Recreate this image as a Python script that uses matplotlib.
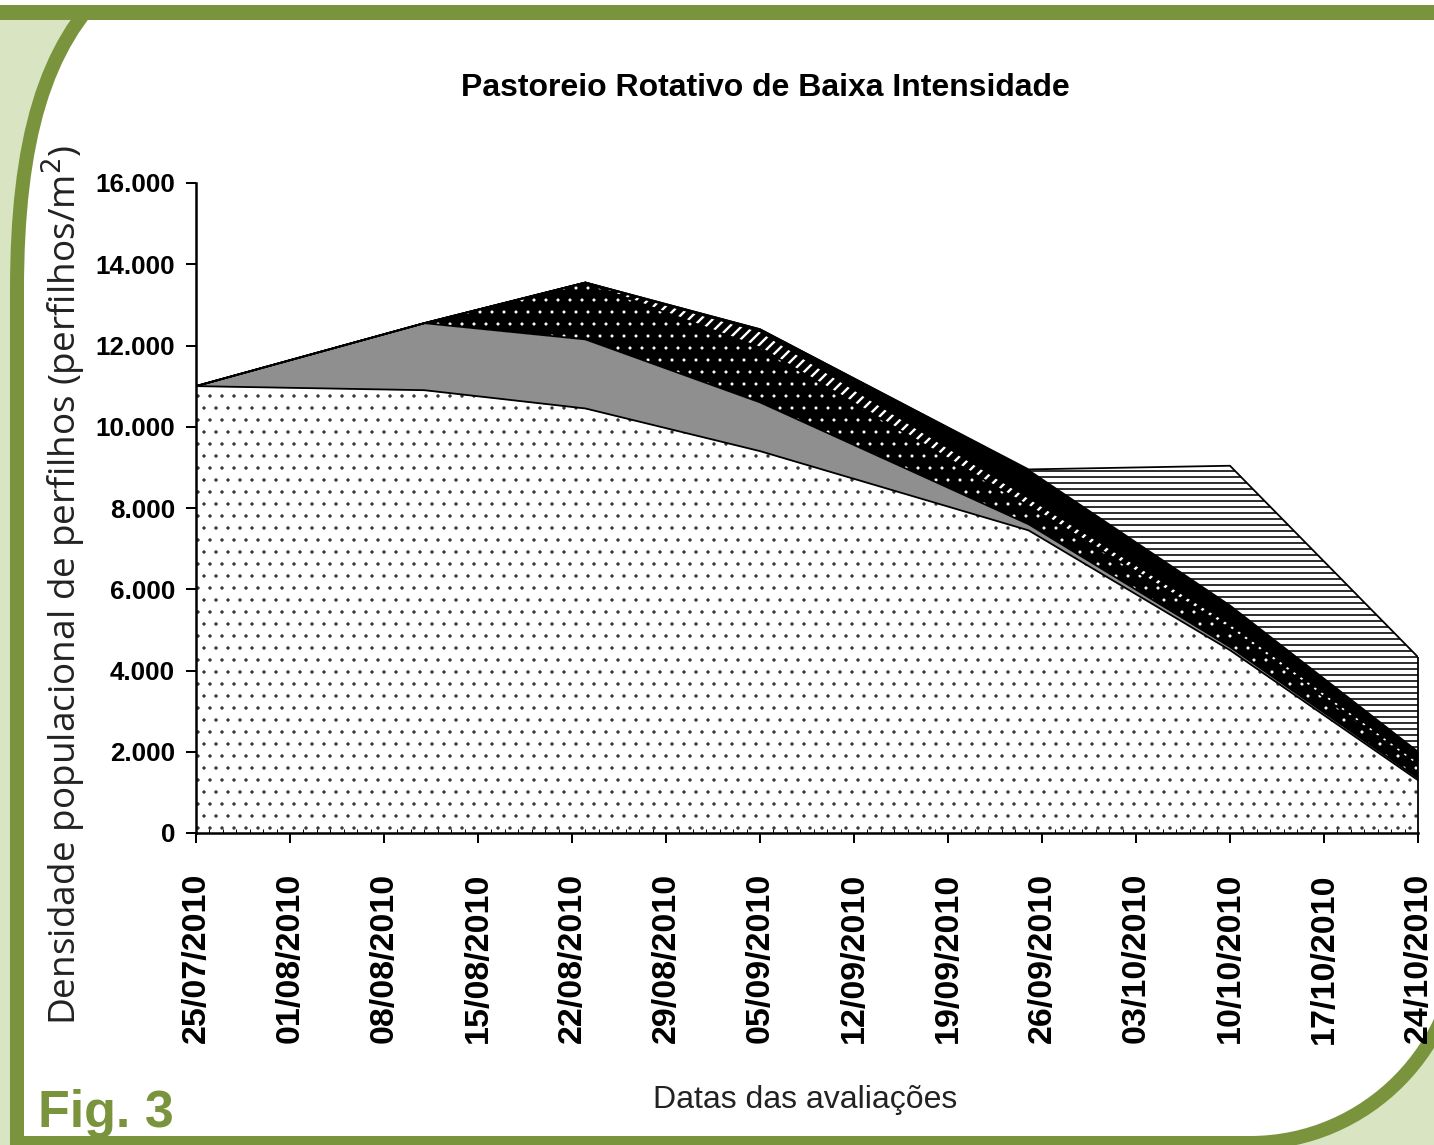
import matplotlib.pyplot as plt
import matplotlib.dates as mdates
from matplotlib.path import Path
from matplotlib.patches import PathPatch, Rectangle
import numpy as np
import pandas as pd

# Datas das avaliações (pontos medidos)
datas = pd.to_datetime(['2010-07-25', '2010-08-11', '2010-08-23', '2010-09-05',
                        '2010-09-25', '2010-10-10', '2010-10-24'])

# Densidade de perfilhos por camada (perfilhos/m2), de baixo para cima
camada1 = [11000, 10900, 10450, 9400, 7450, 4500, 1300]
camada2 = [0, 1650, 1700, 1200, 150, 80, 50]
camada3 = [0, 0, 1400, 1350, 450, 450, 300]
camada4 = [0, 0, 0, 400, 200, 120, 100]
camada5 = [0, 0, 0, 50, 680, 450, 250]
camada6 = [0, 0, 0, 0, 20, 3440, 2330]

# Eixos
semanas = pd.date_range('2010-07-25', '2010-10-24', freq='7D')
y_ticks = [0, 2000, 4000, 6000, 8000, 10000, 12000, 14000, 16000]
y_labels = ['0', '2.000', '4.000', '6.000', '8.000', '10.000', '12.000', '14.000', '16.000']

W, H = 1434, 1145
verde = '#7a943d'
verde_claro = '#d9e5c2'
fonte = 'Liberation Sans'

fig = plt.figure(figsize=(W / 72, H / 72), dpi=72)
fig.patch.set_facecolor(verde_claro)

# Moldura verde de fundo (coordenadas em pixels)
bg = fig.add_axes([0, 0, 1, 1], zorder=-10)
bg.set_xlim(0, W)
bg.set_ylim(H, 0)
bg.axis('off')
verts = [(17, 1143), (17, 290), (17, 140), (45, 45), (110, -15), (1470, -15),
         (1461, 930), (1461, 1047), (1367, 1143), (1250, 1143), (17, 1143), (17, 1143)]
codes = [Path.MOVETO, Path.LINETO, Path.CURVE4, Path.CURVE4, Path.CURVE4, Path.LINETO,
         Path.LINETO, Path.CURVE4, Path.CURVE4, Path.CURVE4, Path.LINETO, Path.CLOSEPOLY]
bg.add_patch(PathPatch(Path(verts, codes), facecolor='white', edgecolor=verde, lw=14))
bg.add_patch(Rectangle((0, -2), W, 7, facecolor='white', edgecolor='none'))
bg.add_patch(Rectangle((0, 5), W, 15, facecolor=verde, edgecolor='none'))

ax = fig.add_axes([196 / W, (H - 833) / H, (1418 - 196) / W, (833 - 183) / H])
ax.set_facecolor('none')

# (cor de fundo, hachura, cor da hachura, espessura da hachura)
estilos = [
    ('white', '.', '#333333', 0.9),
    ('#8f8f8f', None, 'black', 1.0),
    ('black', '.', 'white', 0.6),
    ('black', '//', 'white', 2.4),
    ('black', None, 'black', 1.0),
    ('white', '--', 'black', 1.6),
]
camadas = [camada1, camada2, camada3, camada4, camada5, camada6]

base = np.zeros(len(datas))
for vals, (fc, hatch, hc, hlw) in zip(camadas, estilos):
    topo = base + np.array(vals)
    with plt.rc_context({'hatch.linewidth': hlw}):
        area = ax.fill_between(datas, base, topo, facecolor=fc, hatch=hatch,
                               edgecolor=hc, linewidth=0)
    if hasattr(area, 'set_hatch_linewidth'):
        area.set_hatch_linewidth(hlw)
    ax.plot(datas, topo, color='black', lw=1.8)
    base = topo
ax.vlines(datas[-1], 0, base[-1], color='black', lw=1.8, clip_on=False)

ax.set_xlim(datas[0], datas[-1])
ax.set_ylim(0, 16000)
ax.spines['top'].set_visible(False)
ax.spines['right'].set_visible(False)
ax.spines['left'].set_linewidth(2.5)
ax.spines['bottom'].set_linewidth(2.5)

ax.set_yticks(y_ticks)
ax.set_yticklabels(y_labels, fontfamily=fonte, fontweight='bold', fontsize=26)
ax.tick_params(axis='y', length=10, width=2, pad=11)

ax.set_xticks(semanas)
ax.set_xticklabels([d.strftime('%d/%m/%Y') for d in semanas], rotation=90,
                   fontfamily=fonte, fontweight='bold', fontsize=34)
ax.tick_params(axis='x', length=10, width=2, pad=30)
ax.xaxis.set_minor_locator(mdates.DayLocator())
ax.tick_params(axis='x', which='minor', direction='in', length=4, width=1)

fig.text(765 / W, 1 - 88 / H, 'Pastoreio Rotativo de Baixa Intensidade', ha='center', va='center',
         fontfamily=fonte, fontweight='bold', fontsize=32)
fig.text(64 / W, 1 - 585 / H, 'Densidade populacional de perfilhos (perfilhos/m$^2$)',
         rotation=90, ha='center', va='center', fontfamily='Open Sans', fontsize=37, color='#222222')
fig.text(805 / W, 1 - 1100 / H, 'Datas das avaliações', ha='center', va='center',
         fontfamily=fonte, fontsize=32, color='#222222')
fig.text(38 / W, 1 - 1127 / H, 'Fig. 3', ha='left', va='baseline',
         fontfamily=fonte, fontweight='bold', fontsize=52, color=verde)

fig.savefig('out.png', dpi=72, facecolor=fig.get_facecolor())
